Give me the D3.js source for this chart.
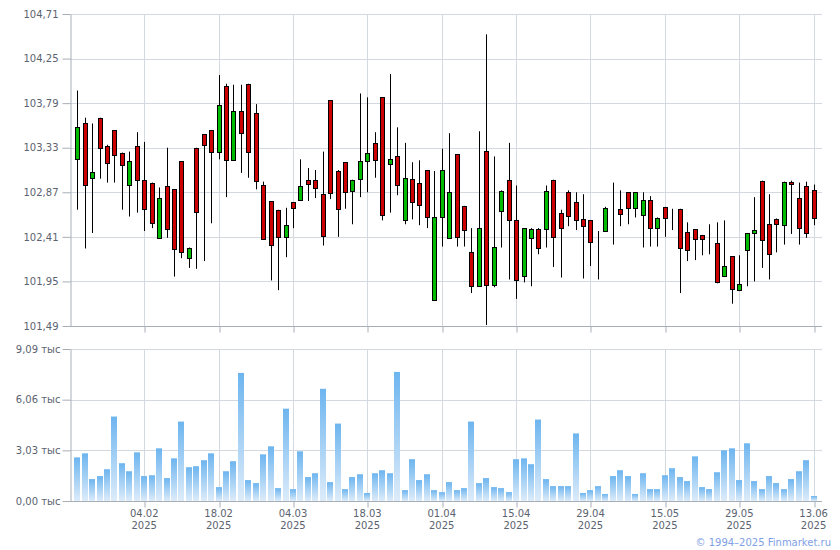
<!DOCTYPE html>
<html><head><meta charset="utf-8">
<script src="https://cdn.jsdelivr.net/npm/d3@7"></script>
<style>
html,body{margin:0;padding:0;background:#fff;}
svg{display:block;font-family:"DejaVu Sans",Verdana,sans-serif;}
</style></head>
<body><svg id="c" width="840" height="550"></svg>
<script>
// ---- data ----
const openP  = [103.21,103.58,103.02,103.64,103.35,103.51,103.28,102.94,103.35,103.00,
102.97,102.40,102.94,102.90,103.19,102.20,103.33,103.47,103.51,103.28,
103.97,103.20,103.71,103.99,103.69,102.95,102.78,102.69,102.41,102.77,
102.80,103.00,103.00,102.85,103.82,103.09,103.18,102.89,103.00,103.20,
103.38,103.85,103.16,103.24,102.59,103.01,102.97,103.10,101.76,102.62,
102.40,103.26,102.73,102.25,101.90,103.30,101.92,102.67,103.00,102.58,
102.00,102.40,102.49,102.49,103.00,102.66,102.87,102.77,102.59,102.58,
102.47,102.47,102.73,102.70,102.87,102.71,102.64,102.79,102.50,102.72,
102.61,102.70,102.46,102.49,102.43,102.39,102.35,102.01,102.21,101.86,
102.27,102.45,102.99,102.54,102.59,102.54,102.98,102.81,102.94,102.89];
const highP  = [103.92,103.64,103.58,103.64,103.36,103.51,103.28,103.29,103.49,103.39,
102.97,102.92,103.33,102.90,103.19,102.30,103.33,103.47,103.51,104.08,
103.99,103.98,103.98,103.99,103.78,102.98,102.78,102.69,102.71,102.77,
103.21,103.12,103.10,103.29,103.82,103.10,103.18,103.00,103.89,103.85,
103.49,103.85,104.09,103.54,103.38,103.18,103.20,103.10,103.09,103.32,
103.48,103.26,102.73,102.50,103.50,104.50,103.24,102.89,103.38,102.94,
102.50,102.50,102.50,102.94,103.00,102.69,102.89,102.87,102.85,102.58,
102.47,102.72,102.97,102.89,102.87,102.87,102.87,102.83,102.61,102.72,
102.70,102.70,102.56,102.49,102.43,102.54,102.56,102.58,102.21,102.22,
102.45,102.82,102.99,102.85,102.60,102.98,102.99,102.97,102.98,102.95];
const lowP   = [102.69,102.29,102.45,103.01,102.97,102.97,102.69,102.62,102.66,102.47,
102.50,102.40,102.40,102.00,102.19,102.09,102.08,102.16,102.55,103.21,
102.82,103.20,103.07,103.02,102.90,102.38,101.96,101.86,102.20,102.50,
102.78,102.78,102.81,102.32,102.80,102.41,102.70,102.54,102.82,102.87,
103.02,102.58,102.66,102.84,102.54,102.59,102.53,102.50,101.76,102.31,
102.40,102.31,102.31,101.83,101.90,101.50,101.89,102.30,101.97,101.77,
101.94,101.90,102.23,102.30,102.10,101.99,102.52,102.48,101.98,102.11,
101.97,102.47,102.33,102.52,102.54,102.61,102.30,102.31,102.31,102.41,
102.48,101.83,102.16,102.17,102.22,102.23,101.93,102.01,101.72,101.85,
101.90,101.95,102.09,101.97,102.25,102.33,102.44,102.33,102.40,102.53];
const closeP = [103.54,102.94,103.08,103.33,103.17,103.25,103.16,103.19,103.00,102.70,
102.56,102.81,102.50,102.28,102.25,102.30,102.67,103.36,103.28,103.77,
103.21,103.71,103.48,103.29,102.99,102.39,102.33,102.41,102.53,102.71,
102.94,102.96,102.92,102.42,102.86,102.70,102.87,103.00,103.19,103.28,
103.20,102.63,103.21,102.94,103.02,102.77,102.74,102.61,102.62,103.10,
102.87,102.40,102.48,101.90,102.50,101.92,102.31,102.88,102.59,101.96,
102.50,102.49,102.29,102.88,102.41,102.51,102.62,102.58,102.52,102.35,
102.47,102.71,102.73,102.65,102.71,102.87,102.79,102.50,102.60,102.61,
102.61,102.30,102.27,102.39,102.39,102.39,101.95,102.11,101.87,101.92,
102.45,102.48,102.38,102.23,102.54,102.98,102.96,102.50,102.46,102.60];
// volume, thousands
const volume = [2.61,2.85,1.31,1.49,1.90,5.05,2.26,1.78,2.91,1.49,
1.54,3.15,1.37,2.55,4.75,2.02,2.08,2.44,2.85,0.83,
1.78,2.38,7.66,1.25,1.07,2.79,3.27,0.77,5.52,0.71,
2.97,1.43,1.66,6.71,1.13,4.63,0.71,1.43,1.60,0.48,
1.66,1.84,1.66,7.72,0.65,2.50,1.25,1.60,0.65,0.53,
1.13,0.65,0.77,4.75,1.07,1.37,0.83,0.77,0.53,2.50,
2.55,2.20,4.87,1.31,0.89,0.89,0.89,4.04,0.48,0.65,
0.89,0.42,1.49,1.84,1.49,0.42,1.66,0.71,0.71,1.54,
1.96,1.43,1.19,2.67,0.83,0.71,1.72,3.03,3.15,1.25,
3.45,1.19,0.71,1.49,1.07,0.71,1.31,1.78,2.44,0.30];
const dateTickIdx = [9,19,29,39,49,59,69,79,89,99];
const dateLabels  = ["04.02","18.02","04.03","18.03","01.04","15.04","29.04","15.05","29.05","13.06"];
const yearLabel   = "2025";
const priceTicks  = [101.49,101.95,102.41,102.87,103.33,103.79,104.25,104.71];
const volTicks    = [0,3.03,6.06,9.09];

// ---- layout ----
const L = 70, R = 822, PT = 14, PB = 326, VT = 349, VB = 501;
const svg = d3.select("#c");
const gridC = "#d3d9de", axisC = "#a8aeb6", textC = "#5c6370";

const x = d3.scaleLinear().domain([0, 99]).range([77.3, 813.6]);
const y = d3.scaleLinear().domain([101.49, 104.71]).range([PB, PT]);
const yv = d3.scaleLinear().domain([0, 9.09]).range([VB, VT]);
const px = v => Math.round(v) + 0.5;
const fmt = d3.format(".2f");
const ru = v => fmt(v).replace(".", ",");

const defs = svg.append("defs");
const grad = defs.append("linearGradient").attr("id","vg").attr("x1",0).attr("y1",0).attr("x2",0).attr("y2",1);
grad.append("stop").attr("offset","0%").attr("stop-color","#6db5ef");
grad.append("stop").attr("offset","100%").attr("stop-color","#ddecfa");

// gridlines
const g = svg.append("g");
g.selectAll(".hp").data(priceTicks.slice(1)).join("line")
  .attr("x1", L).attr("x2", R).attr("y1", d => px(y(d))).attr("y2", d => px(y(d)))
  .attr("stroke", gridC);
g.selectAll(".hv").data(volTicks.slice(1)).join("line")
  .attr("x1", L).attr("x2", R).attr("y1", d => px(yv(d))).attr("y2", d => px(yv(d)))
  .attr("stroke", gridC);
g.selectAll(".vp").data(dateTickIdx).join("line")
  .attr("x1", d => px(x(d))).attr("x2", d => px(x(d))).attr("y1", PT).attr("y2", PB)
  .attr("stroke", gridC);
g.selectAll(".vv").data(dateTickIdx).join("line")
  .attr("x1", d => px(x(d))).attr("x2", d => px(x(d))).attr("y1", VT).attr("y2", VB)
  .attr("stroke", gridC);

// volume bars
const idx = d3.range(volume.length);
svg.append("g").selectAll("rect").data(idx).join("rect")
  .attr("x", i => Math.round(x(i)) - 3).attr("width", 6)
  .attr("y", i => yv(volume[i])).attr("height", i => VB - yv(volume[i]))
  .attr("fill", "url(#vg)");

// candles
const cg = svg.append("g");
cg.selectAll("line").data(idx).join("line")
  .attr("x1", i => px(x(i))).attr("x2", i => px(x(i)))
  .attr("y1", i => y(highP[i])).attr("y2", i => y(lowP[i]))
  .attr("stroke", "#000").attr("stroke-width", 1);
cg.selectAll("rect").data(idx).join("rect")
  .attr("x", i => Math.round(x(i)) - 1.5).attr("width", 4)
  .attr("y", i => Math.round(y(Math.max(openP[i], closeP[i]))) + 0.5)
  .attr("height", i => Math.max(0, Math.round(Math.abs(y(openP[i]) - y(closeP[i])))))
  .attr("fill", i => closeP[i] >= openP[i] ? "#00bb00" : "#cc0000")
  .attr("stroke", "#000").attr("stroke-width", 1);

// axes
function styleAxis(sel){
  sel.selectAll("path").attr("stroke", axisC);
  sel.selectAll("line").attr("stroke", axisC);
  sel.selectAll("text").attr("fill", textC).style("font-size","10px").style("font-family","DejaVu Sans, sans-serif");
}
const ap = svg.append("g").attr("transform", `translate(${L + 0.5},0)`)
  .call(d3.axisLeft(y).tickValues(priceTicks).tickFormat(ru).tickSize(8).tickPadding(4).tickSizeOuter(0));
styleAxis(ap);
const av = svg.append("g").attr("transform", `translate(${L + 0.5},0)`)
  .call(d3.axisLeft(yv).tickValues(volTicks).tickFormat(d => ru(d) + " тыс").tickSize(8).tickPadding(2).tickSizeOuter(0));
styleAxis(av);

const bp = svg.append("g").attr("transform", `translate(0,${PB + 0.5})`)
  .call(d3.axisBottom(x).tickValues(dateTickIdx).tickFormat("").tickSize(6).tickSizeOuter(0));
bp.select("path").attr("d", `M${L},0H${R}`);
styleAxis(bp);
const bv = svg.append("g").attr("transform", `translate(0,${VB + 0.5})`)
  .call(d3.axisBottom(x).tickValues(dateTickIdx).tickFormat("").tickSize(6).tickSizeOuter(0));
bv.select("path").attr("d", `M${L},0H${R}`);
styleAxis(bv);
bp.selectAll(".tick line").attr("transform", d => `translate(${px(x(d)) - x(d)},0)`);
bv.selectAll(".tick line").attr("transform", d => `translate(${px(x(d)) - x(d)},0)`);

// date labels
const dl = svg.append("g").selectAll("text").data(dateTickIdx).join("text")
  .attr("x", d => x(d)).attr("text-anchor", "middle")
  .attr("fill", textC).style("font-size", "10px");
dl.append("tspan").attr("x", d => x(d)).attr("y", 517).text((d, k) => dateLabels[k]);
dl.append("tspan").attr("x", d => x(d)).attr("y", 529).text(yearLabel);

// watermark
svg.append("text").attr("x", 831).attr("y", 546).attr("text-anchor", "end")
  .attr("fill", "#7f9fe6").style("font-size", "10px").text("© 1994–2025 Finmarket.ru");
</script></body></html>
